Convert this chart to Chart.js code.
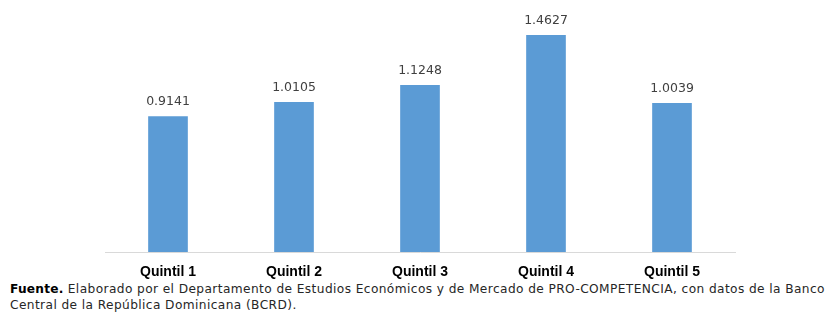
<!DOCTYPE html>
<html><head><meta charset="utf-8">
<script src="https://cdn.jsdelivr.net/npm/chart.js@4"></script>
<style>
html,body{margin:0;padding:0;background:#fff;}
#wrap{position:relative;width:839px;height:312px;overflow:hidden;}
#c{position:absolute;left:0;top:0;}
#note{position:absolute;left:10px;top:281px;width:829px;font-family:"DejaVu Sans",sans-serif;font-size:12.2px;letter-spacing:0.4px;line-height:16px;color:#262626;white-space:nowrap;}
#note b{color:#000;letter-spacing:0.2px;}
</style></head>
<body><div id="wrap"><canvas id="c" width="839" height="280"></canvas>
<div id="note"><b>Fuente.</b> Elaborado por el Departamento de Estudios Económicos y de Mercado de PRO-COMPETENCIA, con datos de la Banco<br>Central de la República Dominicana (BCRD).</div></div>
<script>
const categories = ["Quintil 1","Quintil 2","Quintil 3","Quintil 4","Quintil 5"];
const values = [0.9141, 1.0105, 1.1248, 1.4627, 1.0039];
const valueLabels = ["0.9141","1.0105","1.1248","1.4627","1.0039"];

const labelPlugin = {
  id: 'valueLabels',
  afterDatasetsDraw(chart) {
    const ctx = chart.ctx;
    const meta = chart.getDatasetMeta(0);
    ctx.save();
    ctx.font = '12.5px "DejaVu Sans", sans-serif';
    ctx.fillStyle = '#404040';
    ctx.textAlign = 'center';
    ctx.textBaseline = 'middle';
    meta.data.forEach((bar, i) => {
      ctx.fillText(valueLabels[i], bar.x, bar.y - 15);
    });
    ctx.restore();
  }
};

new Chart(document.getElementById('c'), {
  type: 'bar',
  data: {
    labels: categories,
    datasets: [{
      data: values,
      backgroundColor: '#5b9bd5',
      borderWidth: 0,
      barThickness: 39
    }]
  },
  options: {
    responsive: false,
    animation: false,
    layout: { padding: { left: 105, right: 104, top: 15, bottom: 0 } },
    plugins: { legend: { display: false }, tooltip: { enabled: false } },
    scales: {
      y: { display: false, min: 0, max: 1.6 },
      x: {
        grid: { display: false, drawTicks: false },
        border: { display: true, color: '#d9d9d9', width: 1 },
        ticks: { color: '#000', padding: 12, font: { family: '"Liberation Sans", Arial, sans-serif', size: 14, weight: 'bold' } },
        afterFit(scale) { scale.height = 28; }
      }
    }
  },
  plugins: [labelPlugin]
});
</script></body></html>
